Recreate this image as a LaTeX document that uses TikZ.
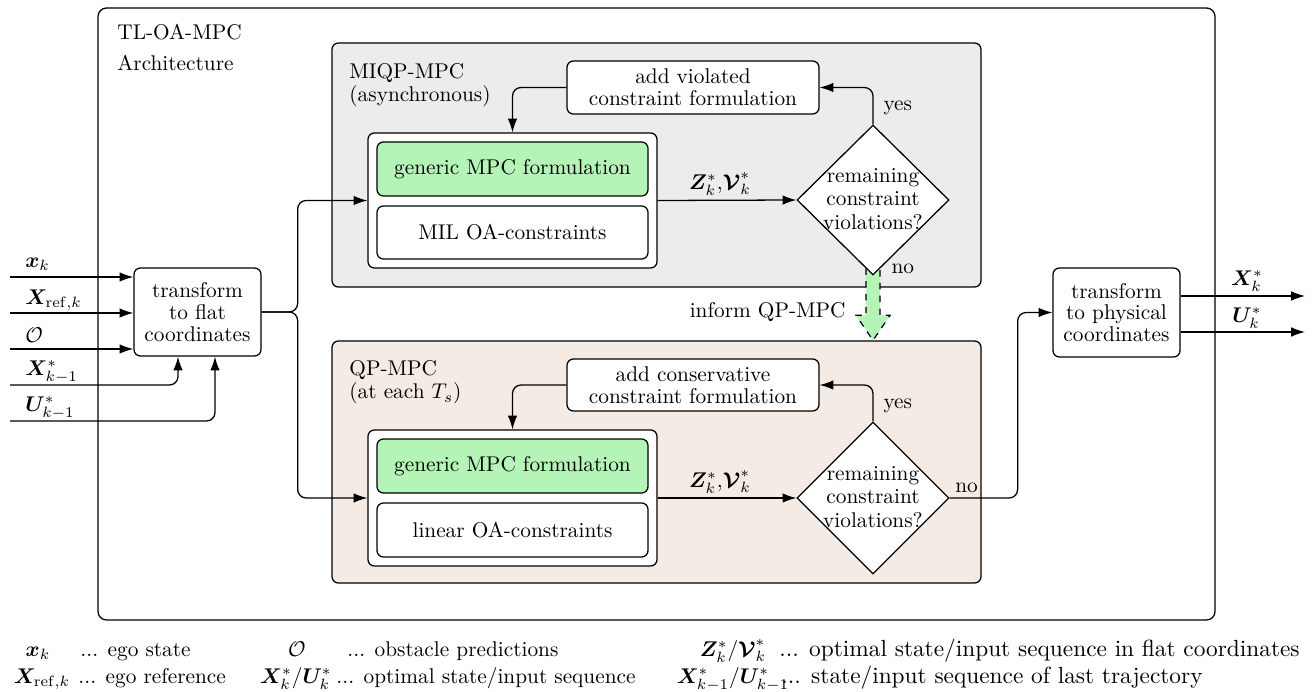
\documentclass[tikz,border=0pt]{standalone}
\usepackage{amsmath,bm}
\usetikzlibrary{calc,shapes.geometric,arrows.meta}
\definecolor{miqpgray}{RGB}{236,236,236}
\definecolor{qppink}{RGB}{245,235,229}
\definecolor{mpcgreen}{RGB}{180,244,182}
\pgfdeclarelayer{back}\pgfdeclarelayer{mid}\pgfsetlayers{back,mid,main}
\begin{document}
\begin{tikzpicture}[x=0.0165cm,y=-0.0165cm,
  font=\fontsize{10pt}{10.2pt}\selectfont,
  sz/.style 2 args={minimum width=#1*0.0165cm, minimum height=#2*0.0165cm},
  box/.style={draw, semithick, rounded corners=3pt, align=center, fill=white, inner sep=2pt},
  region/.style={draw, semithick, rounded corners=3pt},
  dec/.style={diamond, draw, semithick, fill=white, inner sep=0pt},
  arr/.style={semithick, -{Latex[length=6.5pt,width=4.5pt]}},
  lbl/.style={anchor=base west, inner sep=0pt},
  lsym/.style={anchor=base, inner sep=0pt},
  ltxt/.style={anchor=base west, inner sep=0pt},
  bigleg/.style={font=\fontsize{10.95pt}{12pt}\selectfont}]
\useasboundingbox (0,0) rectangle (1313,692);

\begin{pgfonlayer}{back}
\node[region, rounded corners=4pt, sz={1117}{612}] (outer) at (656.5,314) {};
\node[region, fill=miqpgray, sz={649}{244}] (miqp) at (656.5,165) {};
\node[region, fill=qppink, sz={649}{242}] (qp) at (656.5,462) {};
\end{pgfonlayer}

% labels of regions
\node[lbl] (tl1) at (117,40) {TL-OA-MPC};
\node[lbl] (tl2) at (117,71) {Architecture};
\node[lbl] (mq1) at (349,79) {MIQP-MPC};
\node[lbl] (mq2) at (349,102) {(asynchronous)};
\node[lbl] (qp1) at (349,376) {QP-MPC};
\node[lbl] (qp2) at (349,399) {(at each $T_s$)};

% transform boxes
\node[box, sz={127}{88}] (flat) at (197.5,312) {transform\\to flat\\coordinates};
\node[box, sz={127}{89}] (phys) at (1116.5,312.5) {transform\\to physical\\coordinates};

% MIQP part
\node[box, sz={252}{53}] (add1) at (693,87.5) {add violated\\constraint formulation};
\node[box, sz={289}{135}] (c1) at (512.5,200.5) {};
\node[box, fill=mpcgreen, sz={271}{54}] (g1) at (512.5,169) {generic MPC formulation};
\node[box, sz={271}{53}] (m1) at (512.5,232.5) {MIL OA-constraints};
\node[dec, sz={152}{150}] (d1) at (873,200) {};
\node[align=center, inner sep=0pt] (d1t) at (873,199) {remaining\\[1pt]constraint\\[1pt]violations?};

% QP part
\node[box, sz={252}{52}] (add2) at (693,385) {add conservative\\constraint formulation};
\node[box, sz={289}{136}] (c2) at (512.5,498) {};
\node[box, fill=mpcgreen, sz={271}{54}] (g2) at (512.5,466) {generic MPC formulation};
\node[box, sz={271}{54}] (m2) at (512.5,530) {linear OA-constraints};
\node[dec, sz={152}{152}] (d2) at (873,498) {};
\node[align=center, inner sep=0pt] (d2t) at (873,497) {remaining\\[1pt]constraint\\[1pt]violations?};

% connectors MIQP
\draw[arr] (c1.east) -- node[above, pos=0.45, inner sep=2pt] {$\bm{Z}_k^*{,}\bm{\mathcal{V}}_k^*$} (d1.west);
\draw[arr, rounded corners=4pt] (d1.north) |- (add1.east);
\draw[arr, rounded corners=4pt] (add1.west) -| (c1.north);
\node[anchor=west] (yes1) at (876,108) {yes};
\node[anchor=west] (no1) at (884,269) {no};

% connectors QP
\draw[arr] (c2.east) -- node[above, pos=0.45, inner sep=2pt] {$\bm{Z}_k^*{,}\bm{\mathcal{V}}_k^*$} (d2.west);
\draw[arr, rounded corners=4pt] (d2.north) |- (add2.east);
\draw[arr, rounded corners=4pt] (add2.west) -| (c2.north);
\node[anchor=west] (yes2) at (876,406) {yes};
\draw[arr, rounded corners=4pt] (d2.east) -- node[above, pos=0.25, inner sep=2pt] {no} ++(68,0) |- (phys.west);

% inform arrow
\begin{pgfonlayer}{mid}
\draw[dashed, semithick, fill=mpcgreen]
  ($(d1.south)+(-7,-20)$) -- ($(d1.south |- qp.north)+(-7,-25)$) -- ++(-10,0)
  -- (d1.south |- qp.north) -- ++(17,-25) -- ++(-10,0) -- ($(d1.south)+(7,-20)$);
\end{pgfonlayer}
\node[anchor=east, inner sep=0pt] (inform) at (846,312) {inform QP-MPC};

% split from flat
\draw[arr, rounded corners=4pt] (flat.east) -- ++(36,0) |- (c1.west);
\draw[arr, rounded corners=4pt] (flat.east) -- ++(36,0) |- (c2.west);

% inputs
\coordinate (i1) at (10,277);
\coordinate (i2) at (10,313);
\coordinate (i3) at (10,349);
\coordinate (i4) at (10,385);
\coordinate (i5) at (10,421);
\draw[arr] (i1) -- (i1 -| flat.west);
\draw[arr] (i2) -- (i2 -| flat.west);
\draw[arr] (i3) -- (i3 -| flat.west);
\draw[arr, rounded corners=4pt] (i4) -| ($(flat.south)+(-19.5,0)$);
\draw[arr, rounded corners=4pt] (i5) -| ($(flat.south)+(17.5,0)$);
\node[anchor=west, inner sep=0pt] (li1) at (25,264) {$\bm{x}_k$};
\node[anchor=west, inner sep=0pt] (li2) at (25,300) {$\bm{X}_{\mathrm{ref},k}$};
\node[anchor=west, inner sep=0pt] (li3) at (25,335) {$\mathcal{O}$};
\node[anchor=west, inner sep=0pt] (li4) at (25,372) {$\bm{X}_{k-1}^*$};
\node[anchor=west, inner sep=0pt] (li5) at (25,408) {$\bm{U}_{k-1}^*$};

% outputs
\coordinate (o1) at (1305,296);
\coordinate (o2) at (1305,332);
\draw[arr] (o1 -| phys.east) -- (o1);
\draw[arr] (o2 -| phys.east) -- (o2);
\node (lo1) at (1247,281) {$\bm{X}_k^*$};
\node (lo2) at (1247,318) {$\bm{U}_k^*$};

% legend
\node[lsym] (s1) at (38,656) {$\bm{x}_k$};
\node[ltxt] (t1) at (80,656) {... ego state};
\node[lsym] (s2) at (42,683) {$\bm{X}_{\mathrm{ref},k}$};
\node[ltxt] (t2) at (78,683) {... ego reference};
\node[lsym] (s3) at (297,656) {$\mathcal{O}$};
\node[ltxt] (t3) at (347,656) {... obstacle predictions};
\node[lsym] (s4) at (296,683) {$\bm{X}_k^*/\bm{U}_k^*$};
\node[ltxt] (t4) at (336,683) {... optimal state/input sequence};
\node[lsym] (s5) at (733,656) {$\bm{Z}_k^*/\bm{\mathcal{V}}_k^*$};
\node[ltxt, bigleg] (t5) at (779,656) {... optimal state/input sequence in flat coordinates};
\node[lsym] (s6) at (733,683) {$\bm{X}_{k-1}^*/\bm{U}_{k-1}^*$};
\node[ltxt, bigleg] (t6) at (781,683) {... state/input sequence of last trajectory};
\end{tikzpicture}
\end{document}
